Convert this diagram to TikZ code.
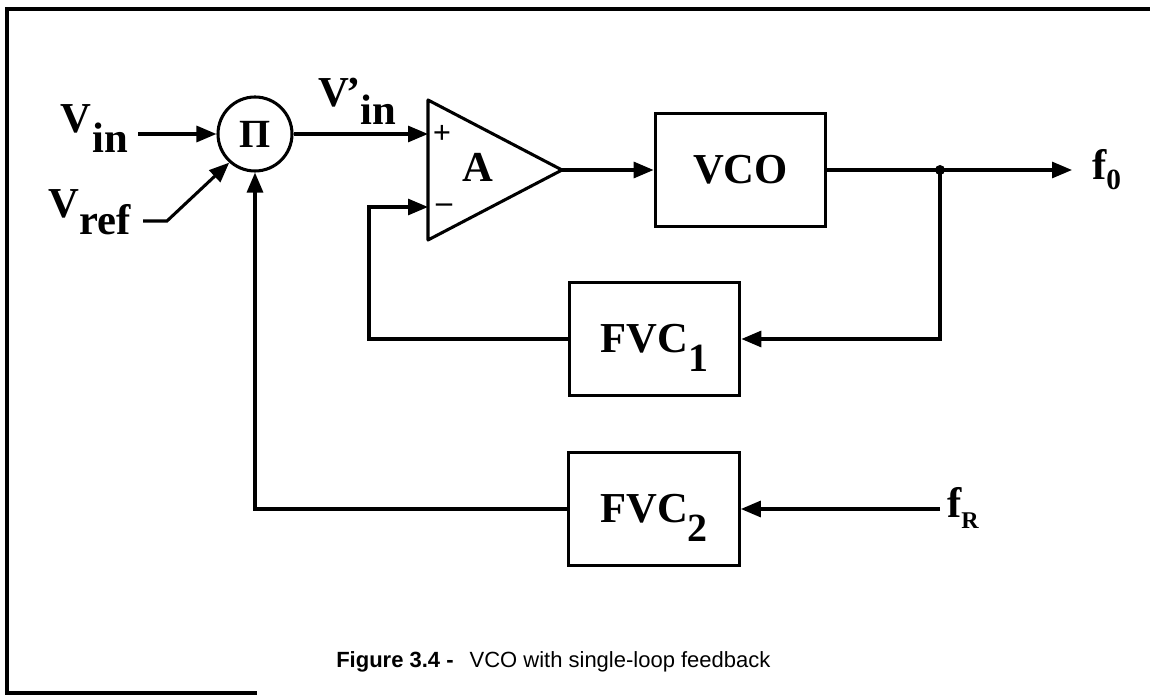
\documentclass[tikz,border=0pt]{standalone}
\usepackage{fontspec}
\setmainfont{Liberation Serif}
\newfontfamily\capfont{Liberation Sans}
\usetikzlibrary{arrows.meta}
\newcommand{\bigf}{\fontsize{32}{38}\selectfont\bfseries}
\begin{document}
\begin{tikzpicture}[x=0.75pt,y=-0.75pt,
  wire/.style={line width=2.3pt},
  arr/.style={wire,-{Triangle[length=15pt,width=12pt]}},
  blk/.style={draw,line width=2.3pt,inner sep=0pt,minimum width=128pt,minimum height=85pt,font=\bigf},
  lbl/.style={inner sep=0pt,anchor=base west,font=\bigf},
  sgn/.style={inner sep=0pt,font=\fontsize{24}{24}\selectfont\bfseries}]
\useasboundingbox (0,0) rectangle (1150,695);
% partial frame
\draw[line width=2.6pt] (1150,9) -- (7,9) -- (7,693) -- (257,693);

% multiplier
\node[draw,circle,line width=2.3pt,minimum size=55.5pt,inner sep=0pt,font=\fontsize{30}{30}\selectfont\bfseries] (pi) at (255,134) {Π};

% amplifier
\coordinate (ampT) at (428,100);
\coordinate (ampB) at (428,240);
\coordinate (ampO) at (562,170);
\coordinate (ampP) at (428,134);
\coordinate (ampM) at (428,207);
\draw[wire,line join=round] (ampT) -- (ampO) -- (ampB) -- cycle;
\node[lbl,anchor=base] (A) at (478,182) {A};
\node[sgn] (plus) at (442,134) {+};
\node[sgn] (minus) at (444,208) {–};

% blocks
\node[blk] (vco) at (740.5,170) {VCO};
\node[blk] (fvcone) at (654.5,339) {FVC\raisebox{-14pt}[0pt][0pt]{\fontsize{30}{30}\selectfont 1}};
\node[blk] (fvctwo) at (654,509) {FVC\raisebox{-14pt}[0pt][0pt]{\fontsize{30}{30}\selectfont 2}};

% labels
\node[lbl] (vin) at (60,133) {V\kern1pt\raisebox{-15pt}{in}};
\node[lbl] (vref) at (48,218) {V\kern0pt\raisebox{-12.75pt}{ref}};
\node[lbl] (vinp) at (318,107) {V\kern-2pt’\kern0pt\raisebox{-13.5pt}{in}};
\node[lbl] (f0) at (1092,180) {f\raisebox{-7.5pt}{\fontsize{22}{22}\selectfont 0}};
\node[lbl] (fR) at (947,517) {f\raisebox{-8.25pt}{\fontsize{18}{18}\selectfont R}};

% connector points
\coordinate (vinS) at (138,134);
\coordinate (vrefS) at (143,221);
\coordinate (vrefK) at (167,221);
\coordinate (junc) at (940,170);
\coordinate (out) at (1072,170);
\coordinate (fbC) at (369,339);
\coordinate (fRS) at (940,509);

% connectors
\draw[arr] (vinS) -- (pi.west);
\draw[arr] (vrefS) -- (vrefK) -- (pi.228);
\draw[arr] (pi.east) -- (ampP);
\draw[arr] (ampO) -- (vco.west);
\draw[wire] (vco.east) -- (junc);
\draw[arr] (junc) -- (out);
\fill (junc) circle (5);
\draw[arr] (junc) |- (fvcone.east);
\draw[arr] (fvcone.west) -- (fbC) |- (ampM);
\draw[arr] (fRS) -- (fvctwo.east);
\draw[arr] (fvctwo.west) -| (pi.south);

% caption
\node[inner sep=0pt,anchor=base west,font=\capfont\fontsize{16.5}{16.5}\selectfont] (cap) at (336,667)
  {{\bfseries Figure 3.4 -}\hspace{12pt}VCO with single-loop feedback};
\end{tikzpicture}
\end{document}
